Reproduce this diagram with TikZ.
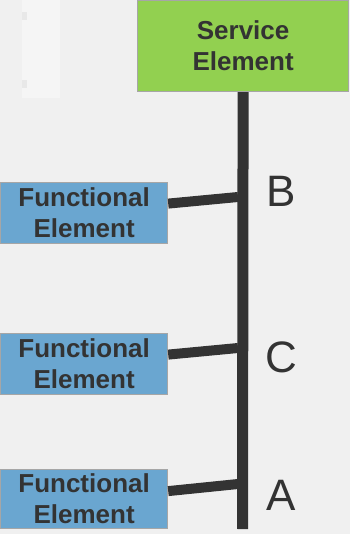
\documentclass[tikz,border=0pt]{standalone}
\usepackage{fontspec}
\setmainfont{Liberation Sans}
\begin{document}
\begin{tikzpicture}[x=1pt,y=-1pt,
  txt/.style={text=black!80},
  elem/.style={draw=black!35, line width=1.2pt, txt, font=\fontsize{26}{31}\selectfont\bfseries,
    align=center, inner sep=0pt, anchor=north west},
  svc/.style={elem, fill=svcgreen, minimum width=211, minimum height=91},
  fun/.style={elem, fill=funblue, minimum width=167, minimum height=60},
  bus/.style={draw=black!80, line width=11pt},
  link/.style={draw=black!80, line width=10pt},
  tag/.style={txt, font=\fontsize{44}{44}\selectfont, anchor=center}]
\definecolor{svcgreen}{HTML}{92D050}
\definecolor{funblue}{HTML}{6AA6D0}
\definecolor{paper}{HTML}{F0F0F0}
\useasboundingbox (0,0) rectangle (350,534);
\fill[paper] (0,0) rectangle (350,534);
% faint shapes in the paper texture
\fill[black!4] (22,0) rectangle (60,98);
\fill[black!9] (22,12) rectangle (27,20);
\fill[black!9] (22,80) rectangle (27,88);

% service element and its bus
\node[svc] (se) at (137,0) {Service\\Element};
\coordinate (busend) at (242.5,529);
\draw[bus] (se.south) -- (busend);

% functional elements
\node[fun, minimum height=61] (f1) at (0,182) {Functional\\Element};
\node[fun, minimum height=61] (f2) at (0,333) {Functional\\Element};
\node[fun, minimum height=59] (f3) at (0,469) {Functional\\Element};

% taps on the bus
\coordinate (t1) at (238,197);
\coordinate (t2) at (238,348);
\coordinate (t3) at (238,484);
\draw[link] ([yshift=9.5pt]f1.east) -- (t1);
\draw[link] ([yshift=9.5pt]f2.east) -- (t2);
\draw[link] ([yshift=8pt]f3.east) -- (t3);

% bus labels
\node[tag] (lb) at (281,191) {B};
\node[tag] (lc) at (281,357) {C};
\node[tag] (la) at (281,495) {A};
\end{tikzpicture}
\end{document}
